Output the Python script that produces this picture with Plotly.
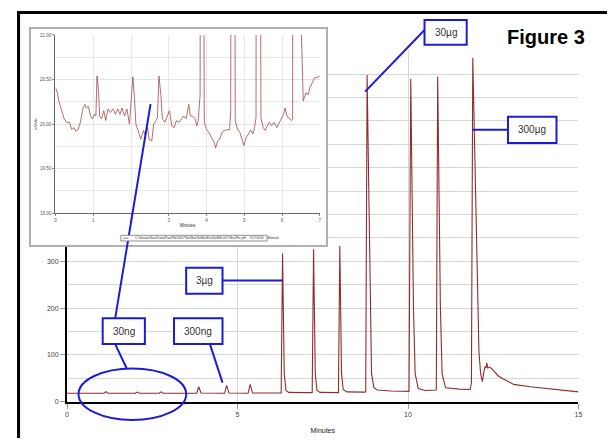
import plotly.graph_objects as go

W, H = 611, 441

# ---------------- data ----------------
main_minutes = [0.0, 1.08, 1.14, 1.2, 2.0, 2.06, 2.12, 2.70, 2.76, 2.82,
                3.80, 3.86, 3.93, 4.62, 4.68, 4.75, 5.31, 5.37, 5.44,
                6.28, 6.32, 6.345, 6.37, 6.42, 6.5, 7.0,
                7.19, 7.23, 7.255, 7.28, 7.33, 7.42, 7.9,
                7.96, 8.0, 8.025, 8.05, 8.1, 8.2, 8.7,
                8.76, 8.80, 8.84, 8.88, 8.93, 9.0, 9.1, 9.5, 10.0,
                10.03, 10.08, 10.12, 10.16, 10.21, 10.3, 10.5, 10.8,
                10.83, 10.87, 10.91, 10.95, 11.0, 11.1, 11.5, 11.82,
                11.86, 11.9, 11.95, 12.0, 12.04, 12.08, 12.13, 12.18, 12.22,
                12.26, 12.29, 12.31, 12.34, 12.4, 12.5, 12.65, 12.81, 13.1,
                13.58, 14.07, 14.55, 15.0]
main_signal = [18, 18, 21.5, 18, 18, 20.5, 18, 18, 21, 18,
               18, 32, 18.5, 18, 35, 18.5, 18, 37, 18.5,
               18.5, 317, 190, 60, 24, 20, 19.5,
               19.5, 326, 200, 60, 24, 20, 19.5,
               19.5, 333, 200, 60, 26, 21, 20.5,
               21, 698, 500, 200, 60, 30, 25, 23, 21.5,
               22, 690, 480, 200, 60, 28, 24, 24.5,
               25, 695, 480, 200, 60, 30, 27, 26,
               40, 735, 560, 360, 206, 108, 60, 43, 62,
               75, 72, 83, 72, 74, 67, 55, 48, 37,
               32, 28, 24.5, 21]

inset_minutes = [0.00, 0.05, 0.10, 0.17, 0.23, 0.30, 0.37, 0.43, 0.49, 0.54,
                 0.60, 0.66, 0.73, 0.78, 0.82, 0.87, 0.93, 0.98, 1.03, 1.07,
                 1.10, 1.14, 1.17, 1.22, 1.28, 1.33, 1.39, 1.45, 1.52, 1.59,
                 1.65, 1.71, 1.76, 1.83, 1.89, 1.96, 2.01, 2.05, 2.09, 2.13,
                 2.20, 2.26, 2.33, 2.38, 2.44, 2.48, 2.55, 2.60, 2.66, 2.70,
                 2.74, 2.79, 2.83, 2.90, 2.96, 3.02, 3.08, 3.14, 3.20, 3.27,
                 3.34, 3.40, 3.46, 3.53, 3.57, 3.63, 3.70, 3.74, 3.78, 3.83,
                 3.86, 3.94, 4.00, 4.06, 4.13, 4.20, 4.24, 4.29, 4.35, 4.41,
                 4.48, 4.55, 4.61, 4.64, 4.68, 4.76, 4.82, 4.88, 4.94, 4.99,
                 5.05, 5.11, 5.17, 5.23, 5.27, 5.31, 5.35, 5.44, 5.50, 5.55,
                 5.60, 5.66, 5.72, 5.79, 5.86, 5.93, 5.99, 6.04, 6.08, 6.13,
                 6.19, 6.25, 6.28, 6.31, 6.36, 6.45, 6.52, 6.54, 6.56, 6.63,
                 6.69, 6.74, 6.80, 6.86, 6.93, 7.00]
inset_signal = [20.41, 20.35, 20.24, 20.15, 20.06, 20.02, 20.02, 19.94, 19.96, 19.92,
                19.94, 20.02, 20.18, 20.22, 20.18, 20.20, 20.09, 20.06, 20.11, 20.09,
                20.54, 20.37, 20.09, 20.06, 20.15, 20.04, 20.17, 20.13, 20.17, 20.11,
                20.17, 20.11, 20.18, 20.09, 20.17, 20.00, 20.26, 20.53, 20.30, 20.00,
                19.91, 19.83, 19.93, 19.87, 19.96, 19.83, 19.81, 20.00, 20.04, 20.07,
                20.54, 20.33, 20.06, 20.02, 20.09, 20.15, 19.98, 19.96, 20.04, 20.02,
                20.06, 20.09, 20.06, 20.22, 20.09, 20.09, 20.06, 19.98, 20.04, 20.33,
                32.0, 20.02, 19.94, 19.91, 19.85, 19.80, 19.73, 19.81, 19.83, 19.91,
                19.93, 19.94, 19.94, 20.15, 35.0, 20.04, 19.94, 19.91, 19.83, 19.76,
                19.85, 19.89, 19.93, 19.89, 19.96, 20.07, 37.0, 20.07, 19.96, 19.93,
                19.98, 20.02, 19.98, 20.02, 19.96, 20.02, 20.07, 20.11, 20.18, 20.09,
                20.06, 20.04, 20.06, 317.0, 60.0, 22.0, 20.8, 20.33, 20.26, 20.35,
                20.33, 20.41, 20.46, 20.52, 20.52, 20.54]

main_xticks = [0, 5, 10, 15]
main_yticks = [0, 100, 200, 300]          # labels above 300 are hidden by the inset
inset_xticks = [0, 1, 2, 3, 4, 5, 6, 7]
inset_yticks = [19.0, 19.5, 20.0, 20.5, 21.0]
inset_yticklabels = ["19.00", "19.50", "20.00", "20.50", "21.00"]
peak_labels = ["30\u00b5g", "300\u00b5g", "3\u00b5g", "30ng", "300ng"]
legend_text = r"C:\Varian\Star\Data\Pan\Rb\2007\Sn\Bot\SnBot\Ea\Sn\EB.007.Mix2Fn.pH    5/17/4/00    Manual"
figure_title = "Figure 3"


def px(x):
    return x / W


def py(y):
    return 1 - y / H


FONT = "Liberation Sans, Arial, sans-serif"
BLUE = "#1c1cd6"
GRID = "#d6d6d6"

fig = go.Figure()
fig.add_trace(go.Scatter(x=main_minutes, y=main_signal, mode="lines",
                         line=dict(color="#8e2d2d", width=1.1),
                         xaxis="x", yaxis="y", showlegend=False, hoverinfo="skip"))
# frame of the inset (empty subplot used as a white card)
fig.add_trace(go.Scatter(x=[None], y=[None], mode="lines", xaxis="x2", yaxis="y2",
                         showlegend=False, hoverinfo="skip"))
fig.add_trace(go.Scatter(x=inset_minutes, y=inset_signal, mode="lines",
                         line=dict(color="#a04a4a", width=0.8),
                         xaxis="x3", yaxis="y3", showlegend=False, hoverinfo="skip"))

fig.update_layout(
    width=W, height=H, autosize=False,
    margin=dict(l=0, r=0, t=0, b=0),
    paper_bgcolor="white", plot_bgcolor="white",
    font=dict(family=FONT),
    xaxis=dict(domain=[px(65.7), px(582.2)], range=[0, 15], tickvals=main_xticks,
               showgrid=True, gridcolor=GRID, gridwidth=1, zeroline=False,
               showline=True, linecolor="black", linewidth=2,
               ticks="outside", ticklen=5, tickcolor="#999",
               tickfont=dict(size=7, color="#444"),
               title=dict(text="Minutes", font=dict(size=7, color="#222"), standoff=11),
               anchor="y", fixedrange=True),
    yaxis=dict(domain=[py(404.3), py(49.3)], range=[0, 750], tickvals=main_yticks,
               showgrid=True, gridcolor=GRID, gridwidth=1, zeroline=False,
               minor=dict(dtick=50, tick0=0, showgrid=True, gridcolor=GRID, ticks=""),
               showline=True, linecolor="black", linewidth=2,
               ticks="outside", ticklen=5, tickcolor="#999",
               tickfont=dict(size=7, color="#444"),
               anchor="x", fixedrange=True),
    xaxis2=dict(domain=[px(29.3), px(327.5)], range=[0, 1], showgrid=False, zeroline=False,
                showticklabels=False, ticks="", showline=True, mirror=True,
                linecolor="#b0b0b0", linewidth=2.2, anchor="y2", fixedrange=True),
    yaxis2=dict(domain=[py(246.0), py(27.5)], range=[0, 1], showgrid=False, zeroline=False,
                showticklabels=False, ticks="", showline=True, mirror=True,
                linecolor="#b0b0b0", linewidth=2.2, anchor="x2", fixedrange=True),
    xaxis3=dict(domain=[px(54), px(321)], range=[0, 7], tickvals=inset_xticks,
                showgrid=True, gridcolor="#e2e2e2", gridwidth=0.8, zeroline=False,
                showline=True, linecolor="#666", linewidth=1.2,
                ticks="outside", ticklen=2, tickcolor="#888",
                tickfont=dict(size=4.5, color="#555"),
                title=dict(text="Minutes", font=dict(size=4.5, color="#333"), standoff=2),
                anchor="y3", fixedrange=True),
    yaxis3=dict(domain=[py(213.7), py(33.3)], range=[19, 21], tickvals=inset_yticks,
                ticktext=inset_yticklabels,
                showgrid=True, gridcolor="#e2e2e2", gridwidth=0.8, zeroline=False,
                minor=dict(dtick=0.25, tick0=19, showgrid=True, gridcolor="#e2e2e2", ticks=""),
                showline=True, linecolor="#666", linewidth=1.2,
                ticks="outside", ticklen=2, tickcolor="#888",
                tickfont=dict(size=4.5, color="#555"),
                title=dict(text="mVolts", font=dict(size=4, color="#333"), standoff=2),
                anchor="x3", fixedrange=True),
)

shapes = []
# white patch behind the figure label
shapes.append(dict(type="rect", xref="paper", yref="paper",
                   x0=px(500), x1=px(611), y0=py(60), y1=py(13),
                   line=dict(width=0), fillcolor="white", layer="above"))
# black frame (top and left)
shapes.append(dict(type="line", xref="paper", yref="paper",
                   x0=px(15.3), x1=px(611), y0=py(10.7), y1=py(10.7),
                   line=dict(color="black", width=3), layer="above"))
shapes.append(dict(type="line", xref="paper", yref="paper",
                   x0=px(16.7), x1=px(16.7), y0=py(9.3), y1=py(441),
                   line=dict(color="black", width=3), layer="above"))

# leader lines
leaders = [((426.7, 28.3), (366.7, 90.7)),
           ((511.0, 129.3), (475.0, 129.3)),
           ((222.7, 281.7), (283.3, 281.7)),
           ((114.3, 346.0), (126.0, 370.7)),
           ((114.3, 320.0), (150.0, 103.3)),
           ((210.0, 346.0), (222.7, 385.0))]
for (a, b) in leaders:
    shapes.append(dict(type="line", xref="paper", yref="paper",
                       x0=px(a[0]), y0=py(a[1]), x1=px(b[0]), y1=py(b[1]),
                       line=dict(color=BLUE, width=2), layer="above"))

# ellipse around the 30ng region
shapes.append(dict(type="circle", xref="paper", yref="paper",
                   x0=px(77.3), x1=px(186.0), y0=py(422.7), y1=py(370.7),
                   line=dict(color=BLUE, width=2), layer="above"))

# label boxes (x0, x1, y0, y1 in pixels)
boxes = [(426.7, 469.3, 18.3, 43.3),
         (511.0, 560.0, 116.0, 142.7),
         (186.0, 222.7, 268.7, 295.0),
         (101.7, 144.3, 320.0, 346.0),
         (173.7, 222.7, 320.0, 346.0)]
annotations = []
for (bx0, bx1, by0, by1), lab in zip(boxes, peak_labels):
    shapes.append(dict(type="rect", xref="paper", yref="paper",
                       x0=px(bx0), x1=px(bx1), y0=py(by1), y1=py(by0),
                       line=dict(color=BLUE, width=2), fillcolor="white", layer="above"))
    annotations.append(dict(xref="paper", yref="paper", x=px((bx0 + bx1) / 2),
                            y=py((by0 + by1) / 2), text=lab, showarrow=False,
                            xanchor="center", yanchor="middle",
                            font=dict(size=10, color="#333", family=FONT)))

# inset legend box
shapes.append(dict(type="rect", xref="paper", yref="paper",
                   x0=px(120), x1=px(267.7), y0=py(241.7), y1=py(236),
                   line=dict(color="#777", width=0.8), fillcolor="white", layer="above"))
shapes.append(dict(type="line", xref="paper", yref="paper",
                   x0=px(122.5), x1=px(127.5), y0=py(238.9), y1=py(238.9),
                   line=dict(color="#a04a4a", width=0.8), layer="above"))
annotations.append(dict(xref="paper", yref="paper", x=px(132.5), y=py(238.9),
                        text=legend_text, showarrow=False, xanchor="left", yanchor="middle",
                        font=dict(size=3.4, color="#333", family=FONT)))

annotations.append(dict(xref="paper", yref="paper", x=px(549.2), y=py(35.5),
                        text="<b>" + figure_title + "</b>", showarrow=False,
                        xanchor="center", yanchor="middle",
                        font=dict(size=20, color="black", family=FONT)))

fig.update_layout(shapes=shapes, annotations=annotations)

fig.write_html("out.html", config={"displayModeBar": False, "staticPlot": True},
               post_script="document.body.style.margin='0';document.body.style.overflow='hidden';")
